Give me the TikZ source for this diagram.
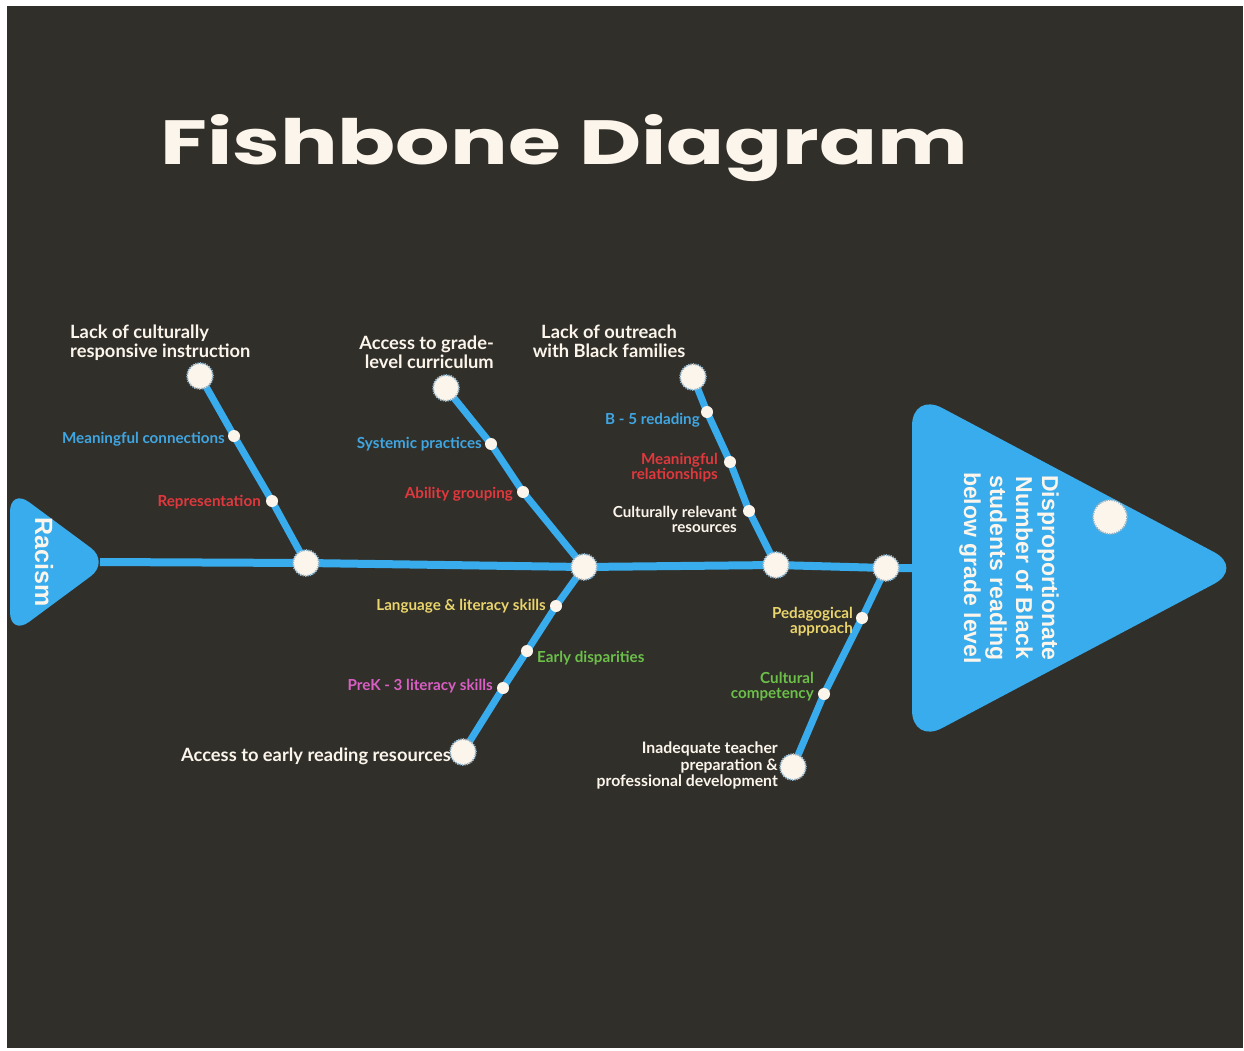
\documentclass[tikz,border=0pt]{standalone}
\usepackage{fontspec}
\setmainfont{Lato}
\newfontfamily\titlefont{Poppins}
\newfontfamily\headfont{Liberation Sans}
\usetikzlibrary{calc}

\definecolor{bgdark}{HTML}{312F2A}
\definecolor{fishblue}{HTML}{38ACEC}
\definecolor{cream}{HTML}{FCF5EC}
\definecolor{ringc}{HTML}{8FB3C9}
\definecolor{lblblue}{HTML}{3FA6E2}
\definecolor{lblred}{HTML}{E0383D}
\definecolor{lblyellow}{HTML}{EAD46C}
\definecolor{lblgreen}{HTML}{6CC04A}
\definecolor{lblpink}{HTML}{DA5EC4}

\pgfdeclarelayer{backdrop}
\pgfdeclarelayer{wires}
\pgfsetlayers{backdrop,wires,main}

\tikzset{
  bignode/.style={circle, minimum size=26pt, inner sep=0pt, fill=cream,
    draw=ringc, line width=1.8pt, dash pattern=on 1.2pt off 1.2pt},
  smalldot/.style={circle, minimum size=12pt, inner sep=0pt, fill=cream},
  spine/.style={fishblue, line width=8pt},
  bone/.style={fishblue, line width=7pt},
  mainlbl/.style={inner sep=0pt, text=cream, font=\bfseries\fontsize{18.3}{18.5}\selectfont},
  sublbl/.style={inner sep=0pt, font=\bfseries\fontsize{15.2}{15}\selectfont},
  fishpart/.style={fill=fishblue, rounded corners=22pt},
}

\begin{document}
\begin{tikzpicture}[x=1pt,y=-1pt]
\begin{pgfonlayer}{backdrop}
  \fill[white] (0,0) rectangle (1244,1051);
  \fill[bgdark] (7,6) rectangle (1243,1048);
\end{pgfonlayer}
\useasboundingbox (0,0) rectangle (1244,1051);

% title
\node[anchor=base west, inner sep=0pt, text=cream] (title) at (160,165)
  {\resizebox{808pt}{50pt}{\titlefont\bfseries Fishbone Diagram}};

% tail and head of the fish
\fill[fishpart, rounded corners=24pt] (10,488) -- (110,562) -- (10,636) -- cycle;
\fill[fishpart, rounded corners=34pt] (912,392) -- (1244,568) -- (912,744) -- cycle;
\coordinate (tail) at (100,562);
\coordinate (head) at (918,568);
\node[rotate=-90, text=cream, inner sep=0pt,
  font=\headfont\bfseries\fontsize{25}{28}\selectfont] (racism) at (44,562) {Racism};
\node[rotate=-90, text=cream, inner sep=0pt, align=center,
  font=\headfont\bfseries\fontsize{23}{26}\selectfont] (effect) at (1009,568)
  {Disproportionate\\Number of Black\\students reading\\below grade level};
\node[bignode, minimum size=34pt] (eye) at (1110,517) {};

% junctions on the spine
\node[bignode] (j1) at (306,563) {};
\node[bignode] (j2) at (584,567) {};
\node[bignode] (j3) at (776,565) {};
\node[bignode] (j4) at (886,568) {};

% bone 1
\node[bignode] (t1) at (200,376) {};
\node[smalldot] (d11) at (234,436) {};
\node[smalldot] (d12) at (272,501) {};
% bone 2
\node[bignode] (t2) at (446,388) {};
\node[smalldot] (d21) at (491,444) {};
\node[smalldot] (d22) at (523,492) {};
% bone 3
\node[bignode] (t3) at (693,377) {};
\node[smalldot] (d31) at (707,412) {};
\node[smalldot] (d32) at (730,462) {};
\node[smalldot] (d33) at (749,511) {};
% bone 4
\node[bignode] (t4) at (463,752) {};
\node[smalldot] (d41) at (556,606) {};
\node[smalldot] (d42) at (527,651) {};
\node[smalldot] (d43) at (503,688) {};
% bone 5
\node[bignode] (t5) at (793,767) {};
\node[smalldot] (d51) at (862,618) {};
\node[smalldot] (d52) at (824,694) {};

\begin{pgfonlayer}{wires}
  \draw[spine] (tail) -- (j1.center) -- (j2.center) -- (j3.center) -- (j4.center) -- (head);
  \draw[bone] (t1.center) -- (d11.center) -- (d12.center) -- (j1.center);
  \draw[bone] (t2.center) -- (d21.center) -- (d22.center) -- (j2.center);
  \draw[bone] (t3.center) -- (d31.center) -- (d32.center) -- (d33.center) -- (j3.center);
  \draw[bone] (j2.center) -- (d41.center) -- (d42.center) -- (d43.center) -- (t4.center);
  \draw[bone] (j4.center) -- (d51.center) -- (d52.center) -- (t5.center);
\end{pgfonlayer}

% cause labels
\node[mainlbl, anchor=north west, align=left] (c1) at (70,325)
  {Lack of culturally\\responsive instruction};
\node[mainlbl, anchor=north east, align=right] (c2) at (494,336)
  {Access to grade-\\level curriculum};
\node[mainlbl, anchor=north, align=center] (c3) at (609,325)
  {Lack of outreach\\with Black families};
\node[mainlbl, anchor=east] (c4) at (451,756)
  {Access to early reading resources};
\node[mainlbl, anchor=north east, align=right, font=\bfseries\fontsize{15.8}{16.5}\selectfont] (c5) at (778,742)
  {Inadequate teacher\\preparation \&\\professional development};

% sub-cause labels
\node[sublbl, text=lblblue, anchor=east] (s11) at (225,439) {Meaningful connections};
\node[sublbl, text=lblred, anchor=east] (s12) at (261,502) {Representation};
\node[sublbl, text=lblblue, anchor=east] (s21) at (482,444) {Systemic practices};
\node[sublbl, text=lblred, anchor=east] (s22) at (513,494) {Ability grouping};
\node[sublbl, text=lblblue, anchor=east] (s31) at (700,420) {B - 5 redading};
\node[sublbl, text=lblred, anchor=east, align=right] (s32) at (718,468) {Meaningful\\relationships};
\node[sublbl, text=cream, anchor=east, align=right] (s33) at (737,519) {Culturally relevant\\resources};
\node[sublbl, text=lblyellow, anchor=east] (s41) at (546,606) {Language \& literacy skills};
\node[sublbl, text=lblgreen, anchor=west] (s42) at (537,658) {Early disparities};
\node[sublbl, text=lblpink, anchor=east] (s43) at (493,686) {PreK - 3 literacy skills};
\node[sublbl, text=lblyellow, anchor=east, align=right] (s51) at (853,622) {Pedagogical\\approach};
\node[sublbl, text=lblgreen, anchor=east, align=right] (s52) at (814,687) {Cultural\\competency};
\end{tikzpicture}
\end{document}
